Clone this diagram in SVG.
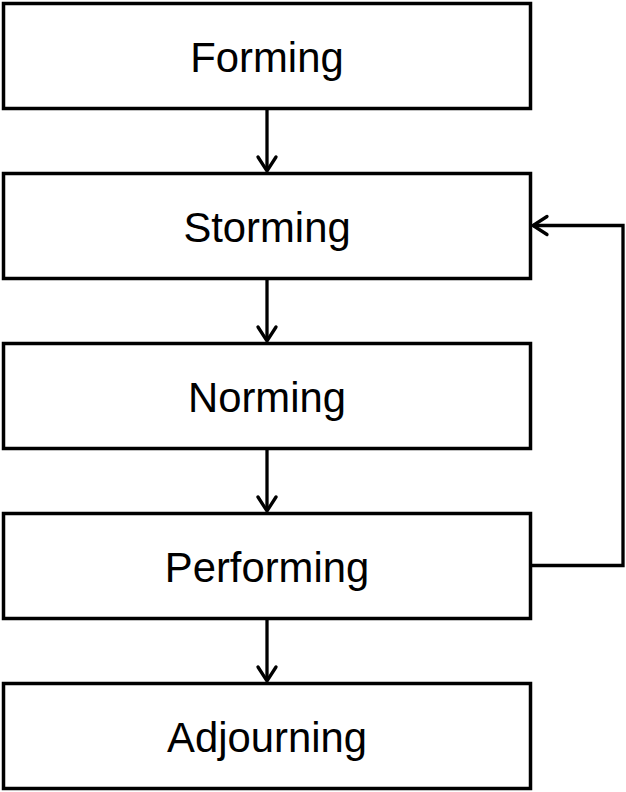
<svg xmlns="http://www.w3.org/2000/svg" width="626" height="792" viewBox="0 0 626 792">
<style>
.box{fill:#fff;stroke:#000;stroke-width:3.5}
.lbl{font-family:"Liberation Sans",Arial,sans-serif;font-size:41.8px;fill:#000;text-anchor:middle}
.con{fill:none;stroke:#000;stroke-width:3.3}
.head{fill:none;stroke:#000;stroke-width:3.3;stroke-linecap:round;stroke-linejoin:miter}
</style>
<rect width="626" height="792" fill="#fff"/>
<g id="connectors">
<line class="con" x1="267" y1="108.5" x2="267" y2="171"/>
<polyline class="head" points="258,157 267,171 276,157"/>
<line class="con" x1="267" y1="278.5" x2="267" y2="341"/>
<polyline class="head" points="258,327 267,341 276,327"/>
<line class="con" x1="267" y1="448.5" x2="267" y2="511"/>
<polyline class="head" points="258,497 267,511 276,497"/>
<line class="con" x1="267" y1="618.5" x2="267" y2="681"/>
<polyline class="head" points="258,667 267,681 276,667"/>
<polyline class="con" points="530.5,565.5 623,565.5 623,225.5 533,225.5"/>
<polyline class="head" points="547,216.5 533,225.5 547,234.5"/>
</g>
<g id="forming"><rect class="box" x="3.5" y="3.5" width="527" height="105"/><text class="lbl" x="267" y="72">Forming</text></g>
<g id="storming"><rect class="box" x="3.5" y="173.5" width="527" height="105"/><text class="lbl" x="267" y="242">Storming</text></g>
<g id="norming"><rect class="box" x="3.5" y="343.5" width="527" height="105"/><text class="lbl" x="267" y="412">Norming</text></g>
<g id="performing"><rect class="box" x="3.5" y="513.5" width="527" height="105"/><text class="lbl" x="267" y="582">Performing</text></g>
<g id="adjourning"><rect class="box" x="3.5" y="683.5" width="527" height="105"/><text class="lbl" x="267" y="752">Adjourning</text></g>
</svg>
